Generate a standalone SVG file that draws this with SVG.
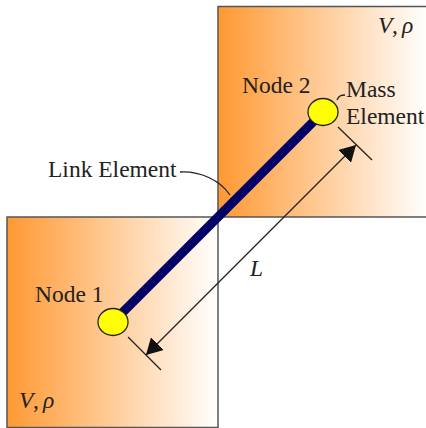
<svg xmlns="http://www.w3.org/2000/svg" width="426" height="428" viewBox="0 0 426 428">
<style>
text{font-family:"Liberation Serif","Times New Roman",serif;font-size:23.500px;fill:#222}
.i{font-style:italic}
.box{stroke:#555;stroke-width:1.5}
.node{fill:#ffff00;stroke:#222;stroke-width:1.3}
.thin{fill:none;stroke:#222;stroke-width:1.3}
</style>
<defs>
<linearGradient id="g"><stop offset="0" stop-color="#ff9933"/><stop offset="1" stop-color="#ffffff"/></linearGradient>
<marker id="a" markerUnits="userSpaceOnUse" markerWidth="18" markerHeight="18" refX="16" refY="9" orient="auto-start-reverse"><path d="M0 0L16 9L0 18Z" fill="#111"/></marker>
</defs>
<g id="volume-2"><rect class="box" x="218" y="6.500" width="209" height="210.500" fill="url(#g)"/>
<text class="i" x="378" y="33">V</text><text x="392" y="33">,</text><text class="i" x="402" y="33">ρ</text></g>
<g id="volume-1"><rect class="box" x="7" y="217" width="211" height="210.500" fill="url(#g)"/>
<text class="i" x="19" y="408">V</text><text x="33" y="408">,</text><text class="i" x="43" y="408">ρ</text></g>
<g id="connectors">
<line x1="113" y1="322" x2="323" y2="112" stroke="#000066" stroke-width="9"/>
<path class="thin" d="M180 172C200 171 220 180 230 195"/>
<path class="thin" d="M337 100C339 95 342 95 345 95"/>
<line class="thin" x1="338" y1="127" x2="372" y2="160"/>
<line class="thin" x1="128" y1="337" x2="161" y2="370"/>
<line class="thin" x1="356" y1="145" x2="146" y2="355" marker-start="url(#a)" marker-end="url(#a)"/>
</g>
<g id="node-1"><ellipse class="node" cx="113" cy="322" rx="15" ry="13.500"/><text x="35" y="302">Node 1</text></g>
<g id="node-2"><ellipse class="node" cx="323" cy="112" rx="15" ry="13.500"/><text x="242" y="93">Node 2</text></g>
<g id="mass-label"><text x="346" y="97">Mass</text><text x="346" y="124">Element</text></g>
<g id="link-label"><text x="48" y="177">Link Element</text></g>
<g id="length-label"><text class="i" x="250" y="276">L</text></g>
</svg>
